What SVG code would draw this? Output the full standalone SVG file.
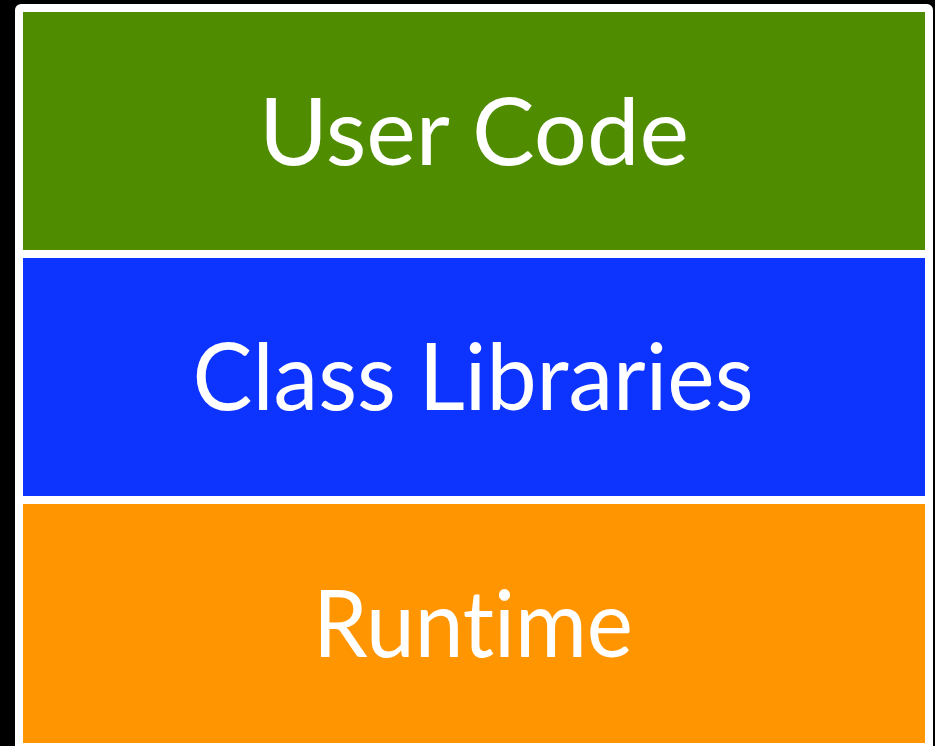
<svg xmlns="http://www.w3.org/2000/svg" width="935" height="746" viewBox="0 0 935 746">
<style>
.lbl{font-family:"Lato","Liberation Sans",sans-serif;font-size:94px;fill:#ffffff;text-anchor:middle;font-variant-ligatures:none;font-feature-settings:"liga" 0}
</style>
<rect x="0" y="0" width="935" height="746" fill="#000000"/>
<rect x="15" y="4" width="918" height="752" rx="6" fill="#ffffff"/>
<g id="user-code">
<rect x="23" y="12" width="902" height="238" fill="#4f8c00"/>
<text class="lbl" x="474" y="165" textLength="430" lengthAdjust="spacingAndGlyphs">User Code</text>
</g>
<g id="class-libraries">
<rect x="23" y="258" width="902" height="238" fill="#0d33ff"/>
<text class="lbl" x="473" y="410" textLength="561" lengthAdjust="spacingAndGlyphs">Class Libraries</text>
</g>
<g id="runtime">
<rect x="23" y="504" width="902" height="239" fill="#ff9500"/>
<text class="lbl" x="473" y="657" textLength="320" lengthAdjust="spacingAndGlyphs">Runtime</text>
</g>
<g id="connectors"/>
</svg>
